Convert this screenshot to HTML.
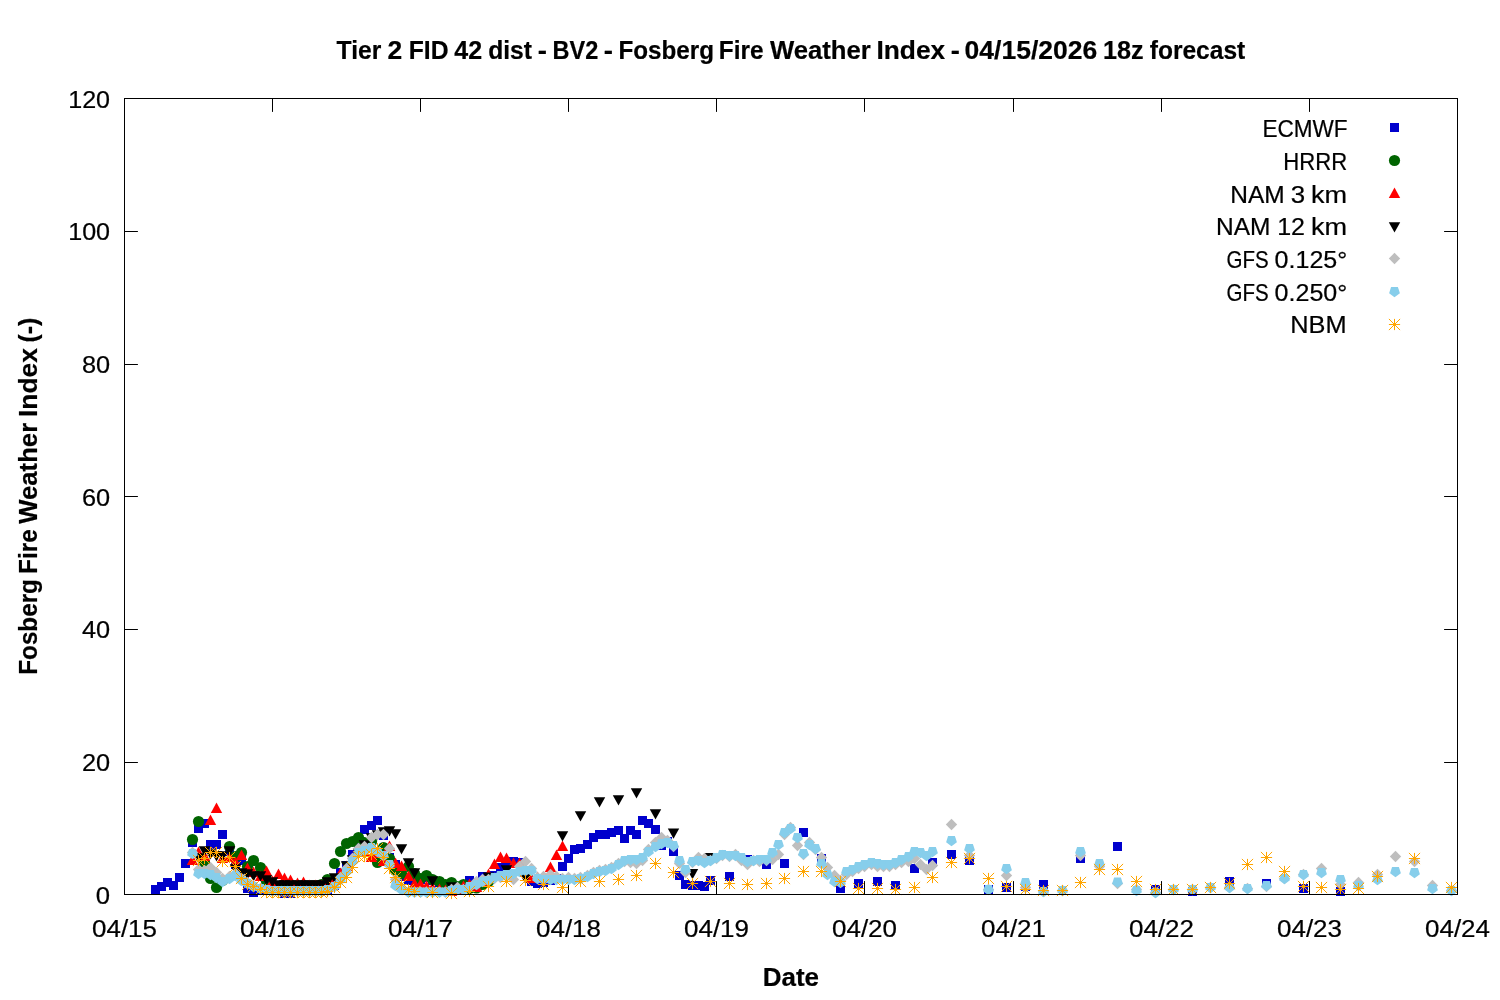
<!DOCTYPE html>
<html lang="en">
<head>
<meta charset="utf-8">
<title>Fosberg Fire Weather Index forecast</title>
<style>
html,body{margin:0;padding:0;background:#fff;}
body{width:1500px;height:1000px;overflow:hidden;}
svg{display:block;}
text{font-family:"Liberation Sans", sans-serif;font-size:24.6px;fill:#000;stroke:#000;stroke-width:0.22px;stroke-linejoin:round;}
.b{font-weight:bold;font-size:24.9px;stroke-width:0.2px;}
</style>
</head>
<body>
<svg width="1500" height="1000" viewBox="0 0 1500 1000">
<rect width="1500" height="1000" fill="#fff"/>
<path d="M272.5 894.5v-13.4M272.5 98.5v13.4M420.5 894.5v-13.4M420.5 98.5v13.4M568.5 894.5v-13.4M568.5 98.5v13.4M716.5 894.5v-13.4M716.5 98.5v13.4M864.5 894.5v-13.4M864.5 98.5v13.4M1013.5 894.5v-13.4M1013.5 98.5v13.4M1161.5 894.5v-13.4M1161.5 98.5v13.4M1309.5 894.5v-13.4M1309.5 98.5v13.4M124.5 762.5h13.4M1457.5 762.5h-13.4M124.5 629.5h13.4M1457.5 629.5h-13.4M124.5 496.5h13.4M1457.5 496.5h-13.4M124.5 364.5h13.4M1457.5 364.5h-13.4M124.5 231.5h13.4M1457.5 231.5h-13.4" stroke="#000" stroke-width="1" fill="none"/>
<g id="s-0"><g fill="#0000cd"><rect x="151.0" y="885.0" width="9" height="9"/><rect x="157.0" y="882.0" width="9" height="9"/><rect x="163.0" y="878.0" width="9" height="9"/><rect x="169.0" y="881.0" width="9" height="9"/><rect x="175.0" y="873.0" width="9" height="9"/><rect x="181.0" y="859.0" width="9" height="9"/><rect x="188.0" y="838.0" width="9" height="9"/><rect x="194.0" y="824.0" width="9" height="9"/><rect x="200.0" y="819.0" width="9" height="9"/><rect x="206.0" y="840.0" width="9" height="9"/><rect x="212.0" y="840.0" width="9" height="9"/><rect x="218.0" y="830.0" width="9" height="9"/><rect x="225.0" y="847.0" width="9" height="9"/><rect x="231.0" y="860.0" width="9" height="9"/><rect x="237.0" y="856.0" width="9" height="9"/><rect x="243.0" y="884.0" width="9" height="9"/><rect x="249.0" y="888.0" width="9" height="9"/><rect x="256.0" y="886.0" width="9" height="9"/><rect x="262.0" y="886.0" width="9" height="9"/><rect x="268.0" y="886.0" width="9" height="9"/><rect x="274.0" y="886.0" width="9" height="9"/><rect x="280.0" y="889.0" width="9" height="9"/><rect x="286.0" y="889.0" width="9" height="9"/><rect x="293.0" y="886.0" width="9" height="9"/><rect x="299.0" y="886.0" width="9" height="9"/><rect x="305.0" y="886.0" width="9" height="9"/><rect x="311.0" y="886.0" width="9" height="9"/><rect x="317.0" y="886.0" width="9" height="9"/><rect x="323.0" y="886.0" width="9" height="9"/><rect x="330.0" y="881.0" width="9" height="9"/><rect x="336.0" y="868.0" width="9" height="9"/><rect x="342.0" y="861.0" width="9" height="9"/><rect x="348.0" y="850.0" width="9" height="9"/><rect x="354.0" y="843.0" width="9" height="9"/><rect x="360.0" y="825.0" width="9" height="9"/><rect x="367.0" y="821.0" width="9" height="9"/><rect x="373.0" y="816.0" width="9" height="9"/><rect x="379.0" y="831.0" width="9" height="9"/><rect x="385.0" y="853.0" width="9" height="9"/><rect x="391.0" y="860.0" width="9" height="9"/><rect x="397.0" y="872.0" width="9" height="9"/><rect x="404.0" y="876.0" width="9" height="9"/><rect x="410.0" y="874.0" width="9" height="9"/><rect x="416.0" y="875.0" width="9" height="9"/><rect x="422.0" y="873.0" width="9" height="9"/><rect x="428.0" y="876.0" width="9" height="9"/><rect x="435.0" y="878.0" width="9" height="9"/><rect x="441.0" y="880.0" width="9" height="9"/><rect x="447.0" y="880.0" width="9" height="9"/><rect x="453.0" y="882.0" width="9" height="9"/><rect x="459.0" y="882.0" width="9" height="9"/><rect x="465.0" y="876.0" width="9" height="9"/><rect x="472.0" y="881.0" width="9" height="9"/><rect x="478.0" y="872.0" width="9" height="9"/><rect x="484.0" y="872.0" width="9" height="9"/><rect x="490.0" y="871.0" width="9" height="9"/><rect x="496.0" y="863.0" width="9" height="9"/><rect x="502.0" y="860.0" width="9" height="9"/><rect x="509.0" y="857.0" width="9" height="9"/><rect x="515.0" y="858.0" width="9" height="9"/><rect x="521.0" y="866.0" width="9" height="9"/><rect x="527.0" y="877.0" width="9" height="9"/><rect x="533.0" y="879.0" width="9" height="9"/><rect x="539.0" y="878.0" width="9" height="9"/><rect x="546.0" y="876.0" width="9" height="9"/><rect x="552.0" y="874.0" width="9" height="9"/><rect x="558.0" y="862.0" width="9" height="9"/><rect x="564.0" y="854.0" width="9" height="9"/><rect x="570.0" y="845.0" width="9" height="9"/><rect x="576.0" y="844.0" width="9" height="9"/><rect x="583.0" y="840.0" width="9" height="9"/><rect x="589.0" y="833.0" width="9" height="9"/><rect x="595.0" y="830.0" width="9" height="9"/><rect x="601.0" y="830.0" width="9" height="9"/><rect x="607.0" y="828.0" width="9" height="9"/><rect x="614.0" y="826.0" width="9" height="9"/><rect x="620.0" y="834.0" width="9" height="9"/><rect x="626.0" y="826.0" width="9" height="9"/><rect x="632.0" y="830.0" width="9" height="9"/><rect x="638.0" y="816.0" width="9" height="9"/><rect x="644.0" y="819.0" width="9" height="9"/><rect x="651.0" y="825.0" width="9" height="9"/><rect x="657.0" y="841.0" width="9" height="9"/><rect x="663.0" y="837.0" width="9" height="9"/><rect x="669.0" y="847.0" width="9" height="9"/><rect x="675.0" y="871.0" width="9" height="9"/><rect x="681.0" y="880.0" width="9" height="9"/><rect x="688.0" y="881.0" width="9" height="9"/><rect x="694.0" y="881.0" width="9" height="9"/><rect x="700.0" y="882.0" width="9" height="9"/><rect x="706.0" y="876.0" width="9" height="9"/><rect x="725.0" y="872.0" width="9" height="9"/><rect x="743.0" y="855.0" width="9" height="9"/><rect x="762.0" y="860.0" width="9" height="9"/><rect x="780.0" y="859.0" width="9" height="9"/><rect x="799.0" y="828.0" width="9" height="9"/><rect x="817.0" y="854.0" width="9" height="9"/><rect x="836.0" y="884.0" width="9" height="9"/><rect x="854.0" y="879.0" width="9" height="9"/><rect x="873.0" y="877.0" width="9" height="9"/><rect x="891.0" y="881.0" width="9" height="9"/><rect x="910.0" y="864.0" width="9" height="9"/><rect x="928.0" y="858.0" width="9" height="9"/><rect x="947.0" y="850.0" width="9" height="9"/><rect x="965.0" y="856.0" width="9" height="9"/><rect x="984.0" y="885.0" width="9" height="9"/><rect x="1002.0" y="883.0" width="9" height="9"/><rect x="1021.0" y="882.0" width="9" height="9"/><rect x="1039.0" y="880.0" width="9" height="9"/><rect x="1076.0" y="854.0" width="9" height="9"/><rect x="1113.0" y="842.0" width="9" height="9"/><rect x="1151.0" y="885.0" width="9" height="9"/><rect x="1188.0" y="887.0" width="9" height="9"/><rect x="1225.0" y="877.0" width="9" height="9"/><rect x="1262.0" y="879.0" width="9" height="9"/><rect x="1299.0" y="884.0" width="9" height="9"/><rect x="1336.0" y="887.0" width="9" height="9"/></g></g>
<g id="s-1"><g fill="#006400"><circle cx="192.5" cy="839.5" r="5.6"/><circle cx="198.5" cy="821.5" r="5.6"/><circle cx="204.5" cy="862.5" r="5.6"/><circle cx="210.5" cy="878.5" r="5.6"/><circle cx="216.5" cy="887.5" r="5.6"/><circle cx="222.5" cy="880.5" r="5.6"/><circle cx="229.5" cy="846.5" r="5.6"/><circle cx="235.5" cy="856.5" r="5.6"/><circle cx="241.5" cy="852.5" r="5.6"/><circle cx="247.5" cy="866.5" r="5.6"/><circle cx="253.5" cy="860.5" r="5.6"/><circle cx="260.5" cy="867.5" r="5.6"/><circle cx="266.5" cy="881.5" r="5.6"/><circle cx="272.5" cy="884.5" r="5.6"/><circle cx="278.5" cy="886.5" r="5.6"/><circle cx="284.5" cy="887.5" r="5.6"/><circle cx="290.5" cy="887.5" r="5.6"/><circle cx="297.5" cy="887.5" r="5.6"/><circle cx="303.5" cy="887.5" r="5.6"/><circle cx="309.5" cy="887.5" r="5.6"/><circle cx="315.5" cy="886.5" r="5.6"/><circle cx="321.5" cy="884.5" r="5.6"/><circle cx="327.5" cy="879.5" r="5.6"/><circle cx="334.5" cy="863.5" r="5.6"/><circle cx="340.5" cy="851.5" r="5.6"/><circle cx="346.5" cy="843.5" r="5.6"/><circle cx="352.5" cy="841.5" r="5.6"/><circle cx="358.5" cy="837.5" r="5.6"/><circle cx="364.5" cy="842.5" r="5.6"/><circle cx="371.5" cy="841.5" r="5.6"/><circle cx="377.5" cy="862.5" r="5.6"/><circle cx="383.5" cy="847.5" r="5.6"/><circle cx="389.5" cy="858.5" r="5.6"/><circle cx="395.5" cy="870.5" r="5.6"/><circle cx="401.5" cy="873.5" r="5.6"/><circle cx="408.5" cy="866.5" r="5.6"/><circle cx="414.5" cy="873.5" r="5.6"/><circle cx="420.5" cy="878.5" r="5.6"/><circle cx="426.5" cy="875.5" r="5.6"/><circle cx="432.5" cy="879.5" r="5.6"/><circle cx="439.5" cy="881.5" r="5.6"/><circle cx="445.5" cy="884.5" r="5.6"/><circle cx="451.5" cy="882.5" r="5.6"/><circle cx="457.5" cy="886.5" r="5.6"/><circle cx="463.5" cy="884.5" r="5.6"/><circle cx="469.5" cy="888.5" r="5.6"/><circle cx="476.5" cy="888.0" r="5.6"/><circle cx="482.5" cy="884.5" r="5.6"/><circle cx="488.5" cy="881.5" r="5.6"/></g></g>
<g id="s-2"><g fill="#ff0000"><path d="M186.8 865.0L192.5 854.5L198.2 865.0z"/><path d="M192.8 857.0L198.5 846.5L204.2 857.0z"/><path d="M198.8 861.0L204.5 850.5L210.2 861.0z"/><path d="M204.8 825.0L210.5 814.5L216.2 825.0z"/><path d="M210.8 813.0L216.5 802.5L222.2 813.0z"/><path d="M216.8 863.0L222.5 852.5L228.2 863.0z"/><path d="M223.8 862.0L229.5 851.5L235.2 862.0z"/><path d="M229.8 867.0L235.5 856.5L241.2 867.0z"/><path d="M235.8 860.0L241.5 849.5L247.2 860.0z"/><path d="M241.8 873.0L247.5 862.5L253.2 873.0z"/><path d="M247.8 877.0L253.5 866.5L259.2 877.0z"/><path d="M254.8 881.0L260.5 870.5L266.2 881.0z"/><path d="M260.8 876.0L266.5 865.5L272.2 876.0z"/><path d="M266.8 886.0L272.5 875.5L278.2 886.0z"/><path d="M272.8 879.0L278.5 868.5L284.2 879.0z"/><path d="M278.8 883.0L284.5 872.5L290.2 883.0z"/><path d="M284.8 885.0L290.5 874.5L296.2 885.0z"/><path d="M291.8 888.0L297.5 877.5L303.2 888.0z"/><path d="M297.8 887.0L303.5 876.5L309.2 887.0z"/><path d="M303.8 890.0L309.5 879.5L315.2 890.0z"/><path d="M309.8 890.0L315.5 879.5L321.2 890.0z"/><path d="M315.8 890.0L321.5 879.5L327.2 890.0z"/><path d="M321.8 888.0L327.5 877.5L333.2 888.0z"/><path d="M328.8 885.0L334.5 874.5L340.2 885.0z"/><path d="M334.8 878.0L340.5 867.5L346.2 878.0z"/><path d="M340.8 871.0L346.5 860.5L352.2 871.0z"/><path d="M346.8 863.0L352.5 852.5L358.2 863.0z"/><path d="M352.8 856.0L358.5 845.5L364.2 856.0z"/><path d="M358.8 857.0L364.5 846.5L370.2 857.0z"/><path d="M365.8 862.0L371.5 851.5L377.2 862.0z"/><path d="M371.8 858.0L377.5 847.5L383.2 858.0z"/><path d="M377.8 866.0L383.5 855.5L389.2 866.0z"/><path d="M383.8 851.0L389.5 840.5L395.2 851.0z"/><path d="M389.8 868.0L395.5 857.5L401.2 868.0z"/><path d="M395.8 871.0L401.5 860.5L407.2 871.0z"/><path d="M402.8 881.0L408.5 870.5L414.2 881.0z"/><path d="M408.8 888.5L414.5 878.0L420.2 888.5z"/><path d="M414.8 889.0L420.5 878.5L426.2 889.0z"/><path d="M420.8 891.0L426.5 880.5L432.2 891.0z"/><path d="M426.8 892.5L432.5 882.0L438.2 892.5z"/><path d="M433.8 894.0L439.5 883.5L445.2 894.0z"/><path d="M439.8 895.0L445.5 884.5L451.2 895.0z"/><path d="M445.8 896.0L451.5 885.5L457.2 896.0z"/><path d="M451.8 895.0L457.5 884.5L463.2 895.0z"/><path d="M457.8 891.0L463.5 880.5L469.2 891.0z"/><path d="M463.8 889.0L469.5 878.5L475.2 889.0z"/><path d="M470.8 892.0L476.5 881.5L482.2 892.0z"/><path d="M476.8 886.0L482.5 875.5L488.2 886.0z"/><path d="M482.8 879.0L488.5 868.5L494.2 879.0z"/><path d="M488.8 869.0L494.5 858.5L500.2 869.0z"/><path d="M494.8 862.0L500.5 851.5L506.2 862.0z"/><path d="M500.8 863.0L506.5 852.5L512.2 863.0z"/><path d="M507.8 868.0L513.5 857.5L519.2 868.0z"/><path d="M513.8 868.0L519.5 857.5L525.2 868.0z"/><path d="M519.8 877.0L525.5 866.5L531.2 877.0z"/><path d="M525.8 883.0L531.5 872.5L537.2 883.0z"/><path d="M531.8 882.0L537.5 871.5L543.2 882.0z"/><path d="M537.8 883.0L543.5 872.5L549.2 883.0z"/><path d="M544.8 872.0L550.5 861.5L556.2 872.0z"/><path d="M550.8 860.0L556.5 849.5L562.2 860.0z"/><path d="M556.8 851.0L562.5 840.5L568.2 851.0z"/></g></g>
<g id="s-3"><g fill="#000000"><path d="M192.8 853.2L198.5 863.4L204.2 853.2z"/><path d="M198.8 846.2L204.5 856.4L210.2 846.2z"/><path d="M204.8 849.2L210.5 859.4L216.2 849.2z"/><path d="M210.8 851.2L216.5 861.4L222.2 851.2z"/><path d="M216.8 851.2L222.5 861.4L228.2 851.2z"/><path d="M223.8 846.2L229.5 856.4L235.2 846.2z"/><path d="M229.8 864.2L235.5 874.4L241.2 864.2z"/><path d="M235.8 868.2L241.5 878.4L247.2 868.2z"/><path d="M241.8 869.2L247.5 879.4L253.2 869.2z"/><path d="M247.8 871.2L253.5 881.4L259.2 871.2z"/><path d="M254.8 871.2L260.5 881.4L266.2 871.2z"/><path d="M260.8 875.2L266.5 885.4L272.2 875.2z"/><path d="M266.8 877.2L272.5 887.4L278.2 877.2z"/><path d="M272.8 880.2L278.5 890.4L284.2 880.2z"/><path d="M278.8 880.2L284.5 890.4L290.2 880.2z"/><path d="M284.8 880.2L290.5 890.4L296.2 880.2z"/><path d="M291.8 880.2L297.5 890.4L303.2 880.2z"/><path d="M297.8 880.2L303.5 890.4L309.2 880.2z"/><path d="M303.8 880.2L309.5 890.4L315.2 880.2z"/><path d="M309.8 880.2L315.5 890.4L321.2 880.2z"/><path d="M315.8 880.2L321.5 890.4L327.2 880.2z"/><path d="M321.8 877.2L327.5 887.4L333.2 877.2z"/><path d="M328.8 873.2L334.5 883.4L340.2 873.2z"/><path d="M334.8 874.7L340.5 884.9L346.2 874.7z"/><path d="M340.8 861.2L346.5 871.4L352.2 861.2z"/><path d="M346.8 855.2L352.5 865.4L358.2 855.2z"/><path d="M352.8 848.2L358.5 858.4L364.2 848.2z"/><path d="M358.8 840.2L364.5 850.4L370.2 840.2z"/><path d="M365.8 833.2L371.5 843.4L377.2 833.2z"/><path d="M371.8 830.2L377.5 840.4L383.2 830.2z"/><path d="M377.8 827.2L383.5 837.4L389.2 827.2z"/><path d="M383.8 826.2L389.5 836.4L395.2 826.2z"/><path d="M389.8 829.2L395.5 839.4L401.2 829.2z"/><path d="M395.8 844.2L401.5 854.4L407.2 844.2z"/><path d="M402.8 858.2L408.5 868.4L414.2 858.2z"/><path d="M408.8 868.2L414.5 878.4L420.2 868.2z"/><path d="M426.8 876.2L432.5 886.4L438.2 876.2z"/><path d="M445.8 882.2L451.5 892.4L457.2 882.2z"/><path d="M463.8 884.2L469.5 894.4L475.2 884.2z"/><path d="M482.8 872.4L488.5 882.6L494.2 872.4z"/><path d="M500.8 865.2L506.5 875.4L512.2 865.2z"/><path d="M519.8 873.7L525.5 883.9L531.2 873.7z"/><path d="M537.8 876.2L543.5 886.4L549.2 876.2z"/><path d="M556.8 831.3L562.5 841.5L568.2 831.3z"/><path d="M574.8 811.3L580.5 821.5L586.2 811.3z"/><path d="M593.8 797.3L599.5 807.5L605.2 797.3z"/><path d="M612.8 795.3L618.5 805.5L624.2 795.3z"/><path d="M630.8 788.3L636.5 798.5L642.2 788.3z"/><path d="M649.8 809.3L655.5 819.5L661.2 809.3z"/><path d="M667.8 828.5L673.5 838.7L679.2 828.5z"/><path d="M686.8 869.0L692.5 879.2L698.2 869.0z"/><path d="M704.8 853.0L710.5 863.2L716.2 853.0z"/></g></g>
<g id="s-4"><g fill="#bebebe"><path d="M186.8 852.5L192.5 846.8L198.2 852.5L192.5 858.2z"/><path d="M192.8 869.5L198.5 863.8L204.2 869.5L198.5 875.2z"/><path d="M198.8 870.5L204.5 864.8L210.2 870.5L204.5 876.2z"/><path d="M204.8 867.5L210.5 861.8L216.2 867.5L210.5 873.2z"/><path d="M210.8 872.5L216.5 866.8L222.2 872.5L216.5 878.2z"/><path d="M216.8 878.5L222.5 872.8L228.2 878.5L222.5 884.2z"/><path d="M223.8 876.5L229.5 870.8L235.2 876.5L229.5 882.2z"/><path d="M229.8 873.5L235.5 867.8L241.2 873.5L235.5 879.2z"/><path d="M235.8 878.5L241.5 872.8L247.2 878.5L241.5 884.2z"/><path d="M241.8 882.5L247.5 876.8L253.2 882.5L247.5 888.2z"/><path d="M247.8 885.5L253.5 879.8L259.2 885.5L253.5 891.2z"/><path d="M254.8 888.5L260.5 882.8L266.2 888.5L260.5 894.2z"/><path d="M260.8 890.5L266.5 884.8L272.2 890.5L266.5 896.2z"/><path d="M266.8 891.5L272.5 885.8L278.2 891.5L272.5 897.2z"/><path d="M272.8 891.5L278.5 885.8L284.2 891.5L278.5 897.2z"/><path d="M278.8 891.5L284.5 885.8L290.2 891.5L284.5 897.2z"/><path d="M284.8 891.5L290.5 885.8L296.2 891.5L290.5 897.2z"/><path d="M291.8 891.5L297.5 885.8L303.2 891.5L297.5 897.2z"/><path d="M297.8 891.5L303.5 885.8L309.2 891.5L303.5 897.2z"/><path d="M303.8 891.5L309.5 885.8L315.2 891.5L309.5 897.2z"/><path d="M309.8 891.5L315.5 885.8L321.2 891.5L315.5 897.2z"/><path d="M315.8 891.5L321.5 885.8L327.2 891.5L321.5 897.2z"/><path d="M321.8 890.5L327.5 884.8L333.2 890.5L327.5 896.2z"/><path d="M328.8 886.5L334.5 880.8L340.2 886.5L334.5 892.2z"/><path d="M334.8 877.5L340.5 871.8L346.2 877.5L340.5 883.2z"/><path d="M340.8 868.5L346.5 862.8L352.2 868.5L346.5 874.2z"/><path d="M346.8 858.5L352.5 852.8L358.2 858.5L352.5 864.2z"/><path d="M352.8 848.5L358.5 842.8L364.2 848.5L358.5 854.2z"/><path d="M358.8 846.5L364.5 840.8L370.2 846.5L364.5 852.2z"/><path d="M365.8 837.5L371.5 831.8L377.2 837.5L371.5 843.2z"/><path d="M371.8 834.5L377.5 828.8L383.2 834.5L377.5 840.2z"/><path d="M377.8 834.5L383.5 828.8L389.2 834.5L383.5 840.2z"/><path d="M383.8 848.5L389.5 842.8L395.2 848.5L389.5 854.2z"/><path d="M389.8 879.5L395.5 873.8L401.2 879.5L395.5 885.2z"/><path d="M395.8 887.5L401.5 881.8L407.2 887.5L401.5 893.2z"/><path d="M402.8 892.0L408.5 886.3L414.2 892.0L408.5 897.7z"/><path d="M408.8 892.0L414.5 886.3L420.2 892.0L414.5 897.7z"/><path d="M414.8 892.0L420.5 886.3L426.2 892.0L420.5 897.7z"/><path d="M420.8 892.0L426.5 886.3L432.2 892.0L426.5 897.7z"/><path d="M426.8 892.0L432.5 886.3L438.2 892.0L432.5 897.7z"/><path d="M433.8 892.0L439.5 886.3L445.2 892.0L439.5 897.7z"/><path d="M439.8 892.0L445.5 886.3L451.2 892.0L445.5 897.7z"/><path d="M445.8 889.5L451.5 883.8L457.2 889.5L451.5 895.2z"/><path d="M451.8 887.5L457.5 881.8L463.2 887.5L457.5 893.2z"/><path d="M457.8 889.5L463.5 883.8L469.2 889.5L463.5 895.2z"/><path d="M463.8 887.5L469.5 881.8L475.2 887.5L469.5 893.2z"/><path d="M470.8 881.5L476.5 875.8L482.2 881.5L476.5 887.2z"/><path d="M476.8 879.5L482.5 873.8L488.2 879.5L482.5 885.2z"/><path d="M482.8 879.5L488.5 873.8L494.2 879.5L488.5 885.2z"/><path d="M488.8 878.5L494.5 872.8L500.2 878.5L494.5 884.2z"/><path d="M494.8 877.5L500.5 871.8L506.2 877.5L500.5 883.2z"/><path d="M500.8 876.5L506.5 870.8L512.2 876.5L506.5 882.2z"/><path d="M507.8 879.5L513.5 873.8L519.2 879.5L513.5 885.2z"/><path d="M513.8 866.5L519.5 860.8L525.2 866.5L519.5 872.2z"/><path d="M519.8 861.5L525.5 855.8L531.2 861.5L525.5 867.2z"/><path d="M525.8 868.5L531.5 862.8L537.2 868.5L531.5 874.2z"/><path d="M531.8 877.5L537.5 871.8L543.2 877.5L537.5 883.2z"/><path d="M537.8 876.5L543.5 870.8L549.2 876.5L543.5 882.2z"/><path d="M544.8 874.5L550.5 868.8L556.2 874.5L550.5 880.2z"/><path d="M550.8 876.5L556.5 870.8L562.2 876.5L556.5 882.2z"/><path d="M556.8 878.5L562.5 872.8L568.2 878.5L562.5 884.2z"/><path d="M562.8 877.5L568.5 871.8L574.2 877.5L568.5 883.2z"/><path d="M568.8 878.5L574.5 872.8L580.2 878.5L574.5 884.2z"/><path d="M574.8 877.5L580.5 871.8L586.2 877.5L580.5 883.2z"/><path d="M581.8 875.5L587.5 869.8L593.2 875.5L587.5 881.2z"/><path d="M587.8 872.5L593.5 866.8L599.2 872.5L593.5 878.2z"/><path d="M593.8 870.5L599.5 864.8L605.2 870.5L599.5 876.2z"/><path d="M599.8 869.5L605.5 863.8L611.2 869.5L605.5 875.2z"/><path d="M605.8 867.5L611.5 861.8L617.2 867.5L611.5 873.2z"/><path d="M612.8 863.5L618.5 857.8L624.2 863.5L618.5 869.2z"/><path d="M618.8 861.5L624.5 855.8L630.2 861.5L624.5 867.2z"/><path d="M624.8 862.5L630.5 856.8L636.2 862.5L630.5 868.2z"/><path d="M630.8 863.5L636.5 857.8L642.2 863.5L636.5 869.2z"/><path d="M636.8 860.5L642.5 854.8L648.2 860.5L642.5 866.2z"/><path d="M642.8 849.5L648.5 843.8L654.2 849.5L648.5 855.2z"/><path d="M649.8 842.5L655.5 836.8L661.2 842.5L655.5 848.2z"/><path d="M655.8 837.5L661.5 831.8L667.2 837.5L661.5 843.2z"/><path d="M661.8 840.5L667.5 834.8L673.2 840.5L667.5 846.2z"/><path d="M667.8 846.5L673.5 840.8L679.2 846.5L673.5 852.2z"/><path d="M673.8 863.5L679.5 857.8L685.2 863.5L679.5 869.2z"/><path d="M679.8 872.5L685.5 866.8L691.2 872.5L685.5 878.2z"/><path d="M686.8 862.5L692.5 856.8L698.2 862.5L692.5 868.2z"/><path d="M692.8 857.5L698.5 851.8L704.2 857.5L698.5 863.2z"/><path d="M698.8 858.5L704.5 852.8L710.2 858.5L704.5 864.2z"/><path d="M704.8 860.5L710.5 854.8L716.2 860.5L710.5 866.2z"/><path d="M710.8 858.5L716.5 852.8L722.2 858.5L716.5 864.2z"/><path d="M716.8 855.5L722.5 849.8L728.2 855.5L722.5 861.2z"/><path d="M723.8 856.5L729.5 850.8L735.2 856.5L729.5 862.2z"/><path d="M729.8 854.5L735.5 848.8L741.2 854.5L735.5 860.2z"/><path d="M735.8 860.5L741.5 854.8L747.2 860.5L741.5 866.2z"/><path d="M741.8 864.5L747.5 858.8L753.2 864.5L747.5 870.2z"/><path d="M747.8 860.5L753.5 854.8L759.2 860.5L753.5 866.2z"/><path d="M753.8 861.5L759.5 855.8L765.2 861.5L759.5 867.2z"/><path d="M760.8 860.5L766.5 854.8L772.2 860.5L766.5 866.2z"/><path d="M766.8 859.5L772.5 853.8L778.2 859.5L772.5 865.2z"/><path d="M772.8 854.5L778.5 848.8L784.2 854.5L778.5 860.2z"/><path d="M778.8 834.5L784.5 828.8L790.2 834.5L784.5 840.2z"/><path d="M784.8 827.5L790.5 821.8L796.2 827.5L790.5 833.2z"/><path d="M791.8 845.5L797.5 839.8L803.2 845.5L797.5 851.2z"/><path d="M797.8 854.5L803.5 848.8L809.2 854.5L803.5 860.2z"/><path d="M803.8 842.5L809.5 836.8L815.2 842.5L809.5 848.2z"/><path d="M809.8 849.5L815.5 843.8L821.2 849.5L815.5 855.2z"/><path d="M815.8 857.5L821.5 851.8L827.2 857.5L821.5 863.2z"/><path d="M821.8 867.5L827.5 861.8L833.2 867.5L827.5 873.2z"/><path d="M828.8 875.5L834.5 869.8L840.2 875.5L834.5 881.2z"/><path d="M834.8 880.5L840.5 874.8L846.2 880.5L840.5 886.2z"/><path d="M840.8 874.5L846.5 868.8L852.2 874.5L846.5 880.2z"/><path d="M846.8 871.5L852.5 865.8L858.2 871.5L852.5 877.2z"/><path d="M852.8 868.5L858.5 862.8L864.2 868.5L858.5 874.2z"/><path d="M858.8 866.5L864.5 860.8L870.2 866.5L864.5 872.2z"/><path d="M865.8 864.5L871.5 858.8L877.2 864.5L871.5 870.2z"/><path d="M871.8 866.5L877.5 860.8L883.2 866.5L877.5 872.2z"/><path d="M877.8 866.5L883.5 860.8L889.2 866.5L883.5 872.2z"/><path d="M883.8 866.5L889.5 860.8L895.2 866.5L889.5 872.2z"/><path d="M889.8 864.5L895.5 858.8L901.2 864.5L895.5 870.2z"/><path d="M895.8 862.5L901.5 856.8L907.2 862.5L901.5 868.2z"/><path d="M902.8 861.5L908.5 855.8L914.2 861.5L908.5 867.2z"/><path d="M908.8 858.5L914.5 852.8L920.2 858.5L914.5 864.2z"/><path d="M914.8 864.5L920.5 858.8L926.2 864.5L920.5 870.2z"/><path d="M920.8 869.5L926.5 863.8L932.2 869.5L926.5 875.2z"/><path d="M926.8 865.5L932.5 859.8L938.2 865.5L932.5 871.2z"/><path d="M945.8 824.5L951.5 818.8L957.2 824.5L951.5 830.2z"/><path d="M963.8 855.5L969.5 849.8L975.2 855.5L969.5 861.2z"/><path d="M982.8 889.5L988.5 883.8L994.2 889.5L988.5 895.2z"/><path d="M1000.8 875.5L1006.5 869.8L1012.2 875.5L1006.5 881.2z"/><path d="M1019.8 887.5L1025.5 881.8L1031.2 887.5L1025.5 893.2z"/><path d="M1037.8 891.5L1043.5 885.8L1049.2 891.5L1043.5 897.2z"/><path d="M1056.8 890.5L1062.5 884.8L1068.2 890.5L1062.5 896.2z"/><path d="M1074.8 855.5L1080.5 849.8L1086.2 855.5L1080.5 861.2z"/><path d="M1093.8 866.5L1099.5 860.8L1105.2 866.5L1099.5 872.2z"/><path d="M1111.8 883.5L1117.5 877.8L1123.2 883.5L1117.5 889.2z"/><path d="M1130.8 889.5L1136.5 883.8L1142.2 889.5L1136.5 895.2z"/><path d="M1149.8 892.5L1155.5 886.8L1161.2 892.5L1155.5 898.2z"/><path d="M1167.8 889.5L1173.5 883.8L1179.2 889.5L1173.5 895.2z"/><path d="M1186.8 889.5L1192.5 883.8L1198.2 889.5L1192.5 895.2z"/><path d="M1204.8 887.5L1210.5 881.8L1216.2 887.5L1210.5 893.2z"/><path d="M1223.8 887.5L1229.5 881.8L1235.2 887.5L1229.5 893.2z"/><path d="M1241.8 888.5L1247.5 882.8L1253.2 888.5L1247.5 894.2z"/><path d="M1260.8 886.5L1266.5 880.8L1272.2 886.5L1266.5 892.2z"/><path d="M1278.8 878.5L1284.5 872.8L1290.2 878.5L1284.5 884.2z"/><path d="M1297.8 874.5L1303.5 868.8L1309.2 874.5L1303.5 880.2z"/><path d="M1315.8 868.5L1321.5 862.8L1327.2 868.5L1321.5 874.2z"/><path d="M1334.8 884.5L1340.5 878.8L1346.2 884.5L1340.5 890.2z"/><path d="M1352.8 882.5L1358.5 876.8L1364.2 882.5L1358.5 888.2z"/><path d="M1371.8 874.5L1377.5 868.8L1383.2 874.5L1377.5 880.2z"/><path d="M1389.8 856.5L1395.5 850.8L1401.2 856.5L1395.5 862.2z"/><path d="M1408.8 861.5L1414.5 855.8L1420.2 861.5L1414.5 867.2z"/><path d="M1426.8 885.5L1432.5 879.8L1438.2 885.5L1432.5 891.2z"/><path d="M1445.8 890.5L1451.5 884.8L1457.2 890.5L1451.5 896.2z"/></g></g>
<g id="s-5"><g fill="#87ceeb"><path d="M192.5 859.2L187.1 855.3L189.1 848.9L195.9 848.9L197.9 855.3z"/><path d="M198.5 879.2L193.1 875.3L195.1 868.9L201.9 868.9L203.9 875.3z"/><path d="M204.5 879.2L199.1 875.3L201.1 868.9L207.9 868.9L209.9 875.3z"/><path d="M210.5 880.2L205.1 876.3L207.1 869.9L213.9 869.9L215.9 876.3z"/><path d="M216.5 883.2L211.1 879.3L213.1 872.9L219.9 872.9L221.9 879.3z"/><path d="M222.5 887.2L217.1 883.3L219.1 876.9L225.9 876.9L227.9 883.3z"/><path d="M229.5 884.2L224.1 880.3L226.1 873.9L232.9 873.9L234.9 880.3z"/><path d="M235.5 881.2L230.1 877.3L232.1 870.9L238.9 870.9L240.9 877.3z"/><path d="M241.5 886.2L236.1 882.3L238.1 875.9L244.9 875.9L246.9 882.3z"/><path d="M247.5 889.2L242.1 885.3L244.1 878.9L250.9 878.9L252.9 885.3z"/><path d="M253.5 892.2L248.1 888.3L250.1 881.9L256.9 881.9L258.9 888.3z"/><path d="M260.5 894.2L255.1 890.3L257.1 883.9L263.9 883.9L265.9 890.3z"/><path d="M266.5 895.2L261.1 891.3L263.1 884.9L269.9 884.9L271.9 891.3z"/><path d="M272.5 896.2L267.1 892.3L269.1 885.9L275.9 885.9L277.9 892.3z"/><path d="M278.5 896.2L273.1 892.3L275.1 885.9L281.9 885.9L283.9 892.3z"/><path d="M284.5 896.2L279.1 892.3L281.1 885.9L287.9 885.9L289.9 892.3z"/><path d="M290.5 896.2L285.1 892.3L287.1 885.9L293.9 885.9L295.9 892.3z"/><path d="M297.5 896.2L292.1 892.3L294.1 885.9L300.9 885.9L302.9 892.3z"/><path d="M303.5 896.2L298.1 892.3L300.1 885.9L306.9 885.9L308.9 892.3z"/><path d="M309.5 896.2L304.1 892.3L306.1 885.9L312.9 885.9L314.9 892.3z"/><path d="M315.5 896.2L310.1 892.3L312.1 885.9L318.9 885.9L320.9 892.3z"/><path d="M321.5 896.2L316.1 892.3L318.1 885.9L324.9 885.9L326.9 892.3z"/><path d="M327.5 895.2L322.1 891.3L324.1 884.9L330.9 884.9L332.9 891.3z"/><path d="M334.5 892.2L329.1 888.3L331.1 881.9L337.9 881.9L339.9 888.3z"/><path d="M340.5 885.2L335.1 881.3L337.1 874.9L343.9 874.9L345.9 881.3z"/><path d="M346.5 877.2L341.1 873.3L343.1 866.9L349.9 866.9L351.9 873.3z"/><path d="M352.5 867.2L347.1 863.3L349.1 856.9L355.9 856.9L357.9 863.3z"/><path d="M358.5 858.2L353.1 854.3L355.1 847.9L361.9 847.9L363.9 854.3z"/><path d="M364.5 856.2L359.1 852.3L361.1 845.9L367.9 845.9L369.9 852.3z"/><path d="M371.5 853.2L366.1 849.3L368.1 842.9L374.9 842.9L376.9 849.3z"/><path d="M377.5 857.2L372.1 853.3L374.1 846.9L380.9 846.9L382.9 853.3z"/><path d="M383.5 861.2L378.1 857.3L380.1 850.9L386.9 850.9L388.9 857.3z"/><path d="M389.5 870.2L384.1 866.3L386.1 859.9L392.9 859.9L394.9 866.3z"/><path d="M395.5 891.2L390.1 887.3L392.1 880.9L398.9 880.9L400.9 887.3z"/><path d="M401.5 895.2L396.1 891.3L398.1 884.9L404.9 884.9L406.9 891.3z"/><path d="M408.5 897.7L403.1 893.8L405.1 887.4L411.9 887.4L413.9 893.8z"/><path d="M414.5 897.7L409.1 893.8L411.1 887.4L417.9 887.4L419.9 893.8z"/><path d="M420.5 897.7L415.1 893.8L417.1 887.4L423.9 887.4L425.9 893.8z"/><path d="M426.5 897.7L421.1 893.8L423.1 887.4L429.9 887.4L431.9 893.8z"/><path d="M432.5 897.7L427.1 893.8L429.1 887.4L435.9 887.4L437.9 893.8z"/><path d="M439.5 897.7L434.1 893.8L436.1 887.4L442.9 887.4L444.9 893.8z"/><path d="M445.5 897.7L440.1 893.8L442.1 887.4L448.9 887.4L450.9 893.8z"/><path d="M451.5 896.2L446.1 892.3L448.1 885.9L454.9 885.9L456.9 892.3z"/><path d="M457.5 895.2L452.1 891.3L454.1 884.9L460.9 884.9L462.9 891.3z"/><path d="M463.5 895.2L458.1 891.3L460.1 884.9L466.9 884.9L468.9 891.3z"/><path d="M469.5 892.2L464.1 888.3L466.1 881.9L472.9 881.9L474.9 888.3z"/><path d="M476.5 890.2L471.1 886.3L473.1 879.9L479.9 879.9L481.9 886.3z"/><path d="M482.5 887.2L477.1 883.3L479.1 876.9L485.9 876.9L487.9 883.3z"/><path d="M488.5 886.2L483.1 882.3L485.1 875.9L491.9 875.9L493.9 882.3z"/><path d="M494.5 883.2L489.1 879.3L491.1 872.9L497.9 872.9L499.9 879.3z"/><path d="M500.5 881.2L495.1 877.3L497.1 870.9L503.9 870.9L505.9 877.3z"/><path d="M506.5 880.2L501.1 876.3L503.1 869.9L509.9 869.9L511.9 876.3z"/><path d="M513.5 879.2L508.1 875.3L510.1 868.9L516.9 868.9L518.9 875.3z"/><path d="M519.5 877.2L514.1 873.3L516.1 866.9L522.9 866.9L524.9 873.3z"/><path d="M525.5 876.2L520.1 872.3L522.1 865.9L528.9 865.9L530.9 872.3z"/><path d="M531.5 876.2L526.1 872.3L528.1 865.9L534.9 865.9L536.9 872.3z"/><path d="M537.5 884.2L532.1 880.3L534.1 873.9L540.9 873.9L542.9 880.3z"/><path d="M543.5 885.2L538.1 881.3L540.1 874.9L546.9 874.9L548.9 881.3z"/><path d="M550.5 885.2L545.1 881.3L547.1 874.9L553.9 874.9L555.9 881.3z"/><path d="M556.5 885.2L551.1 881.3L553.1 874.9L559.9 874.9L561.9 881.3z"/><path d="M562.5 885.2L557.1 881.3L559.1 874.9L565.9 874.9L567.9 881.3z"/><path d="M568.5 885.2L563.1 881.3L565.1 874.9L571.9 874.9L573.9 881.3z"/><path d="M574.5 885.2L569.1 881.3L571.1 874.9L577.9 874.9L579.9 881.3z"/><path d="M580.5 884.2L575.1 880.3L577.1 873.9L583.9 873.9L585.9 880.3z"/><path d="M587.5 882.2L582.1 878.3L584.1 871.9L590.9 871.9L592.9 878.3z"/><path d="M593.5 879.2L588.1 875.3L590.1 868.9L596.9 868.9L598.9 875.3z"/><path d="M599.5 877.2L594.1 873.3L596.1 866.9L602.9 866.9L604.9 873.3z"/><path d="M605.5 876.2L600.1 872.3L602.1 865.9L608.9 865.9L610.9 872.3z"/><path d="M611.5 874.2L606.1 870.3L608.1 863.9L614.9 863.9L616.9 870.3z"/><path d="M618.5 870.2L613.1 866.3L615.1 859.9L621.9 859.9L623.9 866.3z"/><path d="M624.5 866.2L619.1 862.3L621.1 855.9L627.9 855.9L629.9 862.3z"/><path d="M630.5 865.2L625.1 861.3L627.1 854.9L633.9 854.9L635.9 861.3z"/><path d="M636.5 865.2L631.1 861.3L633.1 854.9L639.9 854.9L641.9 861.3z"/><path d="M642.5 863.2L637.1 859.3L639.1 852.9L645.9 852.9L647.9 859.3z"/><path d="M648.5 857.2L643.1 853.3L645.1 846.9L651.9 846.9L653.9 853.3z"/><path d="M655.5 852.2L650.1 848.3L652.1 841.9L658.9 841.9L660.9 848.3z"/><path d="M661.5 849.2L656.1 845.3L658.1 838.9L664.9 838.9L666.9 845.3z"/><path d="M667.5 848.2L662.1 844.3L664.1 837.9L670.9 837.9L672.9 844.3z"/><path d="M673.5 851.2L668.1 847.3L670.1 840.9L676.9 840.9L678.9 847.3z"/><path d="M679.5 866.2L674.1 862.3L676.1 855.9L682.9 855.9L684.9 862.3z"/><path d="M685.5 875.2L680.1 871.3L682.1 864.9L688.9 864.9L690.9 871.3z"/><path d="M692.5 867.2L687.1 863.3L689.1 856.9L695.9 856.9L697.9 863.3z"/><path d="M698.5 866.2L693.1 862.3L695.1 855.9L701.9 855.9L703.9 862.3z"/><path d="M704.5 868.2L699.1 864.3L701.1 857.9L707.9 857.9L709.9 864.3z"/><path d="M710.5 866.2L705.1 862.3L707.1 855.9L713.9 855.9L715.9 862.3z"/><path d="M716.5 863.2L711.1 859.3L713.1 852.9L719.9 852.9L721.9 859.3z"/><path d="M722.5 860.2L717.1 856.3L719.1 849.9L725.9 849.9L727.9 856.3z"/><path d="M729.5 861.2L724.1 857.3L726.1 850.9L732.9 850.9L734.9 857.3z"/><path d="M735.5 861.2L730.1 857.3L732.1 850.9L738.9 850.9L740.9 857.3z"/><path d="M741.5 863.2L736.1 859.3L738.1 852.9L744.9 852.9L746.9 859.3z"/><path d="M747.5 867.2L742.1 863.3L744.1 856.9L750.9 856.9L752.9 863.3z"/><path d="M753.5 866.2L748.1 862.3L750.1 855.9L756.9 855.9L758.9 862.3z"/><path d="M759.5 865.2L754.1 861.3L756.1 854.9L762.9 854.9L764.9 861.3z"/><path d="M766.5 865.2L761.1 861.3L763.1 854.9L769.9 854.9L771.9 861.3z"/><path d="M772.5 858.2L767.1 854.3L769.1 847.9L775.9 847.9L777.9 854.3z"/><path d="M778.5 850.2L773.1 846.3L775.1 839.9L781.9 839.9L783.9 846.3z"/><path d="M784.5 838.2L779.1 834.3L781.1 827.9L787.9 827.9L789.9 834.3z"/><path d="M790.5 834.2L785.1 830.3L787.1 823.9L793.9 823.9L795.9 830.3z"/><path d="M797.5 843.2L792.1 839.3L794.1 832.9L800.9 832.9L802.9 839.3z"/><path d="M803.5 859.2L798.1 855.3L800.1 848.9L806.9 848.9L808.9 855.3z"/><path d="M809.5 850.2L804.1 846.3L806.1 839.9L812.9 839.9L814.9 846.3z"/><path d="M815.5 854.2L810.1 850.3L812.1 843.9L818.9 843.9L820.9 850.3z"/><path d="M821.5 869.2L816.1 865.3L818.1 858.9L824.9 858.9L826.9 865.3z"/><path d="M827.5 880.2L822.1 876.3L824.1 869.9L830.9 869.9L832.9 876.3z"/><path d="M834.5 887.2L829.1 883.3L831.1 876.9L837.9 876.9L839.9 883.3z"/><path d="M840.5 888.2L835.1 884.3L837.1 877.9L843.9 877.9L845.9 884.3z"/><path d="M846.5 877.2L841.1 873.3L843.1 866.9L849.9 866.9L851.9 873.3z"/><path d="M852.5 875.2L847.1 871.3L849.1 864.9L855.9 864.9L857.9 871.3z"/><path d="M858.5 872.2L853.1 868.3L855.1 861.9L861.9 861.9L863.9 868.3z"/><path d="M864.5 870.2L859.1 866.3L861.1 859.9L867.9 859.9L869.9 866.3z"/><path d="M871.5 868.2L866.1 864.3L868.1 857.9L874.9 857.9L876.9 864.3z"/><path d="M877.5 869.2L872.1 865.3L874.1 858.9L880.9 858.9L882.9 865.3z"/><path d="M883.5 870.2L878.1 866.3L880.1 859.9L886.9 859.9L888.9 866.3z"/><path d="M889.5 870.2L884.1 866.3L886.1 859.9L892.9 859.9L894.9 866.3z"/><path d="M895.5 868.2L890.1 864.3L892.1 857.9L898.9 857.9L900.9 864.3z"/><path d="M901.5 865.2L896.1 861.3L898.1 854.9L904.9 854.9L906.9 861.3z"/><path d="M908.5 862.2L903.1 858.3L905.1 851.9L911.9 851.9L913.9 858.3z"/><path d="M914.5 857.2L909.1 853.3L911.1 846.9L917.9 846.9L919.9 853.3z"/><path d="M920.5 858.2L915.1 854.3L917.1 847.9L923.9 847.9L925.9 854.3z"/><path d="M926.5 861.2L921.1 857.3L923.1 850.9L929.9 850.9L931.9 857.3z"/><path d="M932.5 857.2L927.1 853.3L929.1 846.9L935.9 846.9L937.9 853.3z"/><path d="M951.5 846.2L946.1 842.3L948.1 835.9L954.9 835.9L956.9 842.3z"/><path d="M969.5 854.2L964.1 850.3L966.1 843.9L972.9 843.9L974.9 850.3z"/><path d="M988.5 895.2L983.1 891.3L985.1 884.9L991.9 884.9L993.9 891.3z"/><path d="M1006.5 874.2L1001.1 870.3L1003.1 863.9L1009.9 863.9L1011.9 870.3z"/><path d="M1025.5 888.2L1020.1 884.3L1022.1 877.9L1028.9 877.9L1030.9 884.3z"/><path d="M1043.5 897.2L1038.1 893.3L1040.1 886.9L1046.9 886.9L1048.9 893.3z"/><path d="M1062.5 896.2L1057.1 892.3L1059.1 885.9L1065.9 885.9L1067.9 892.3z"/><path d="M1080.5 857.2L1075.1 853.3L1077.1 846.9L1083.9 846.9L1085.9 853.3z"/><path d="M1099.5 869.2L1094.1 865.3L1096.1 858.9L1102.9 858.9L1104.9 865.3z"/><path d="M1117.5 887.7L1112.1 883.8L1114.1 877.4L1120.9 877.4L1122.9 883.8z"/><path d="M1136.5 896.2L1131.1 892.3L1133.1 885.9L1139.9 885.9L1141.9 892.3z"/><path d="M1155.5 898.2L1150.1 894.3L1152.1 887.9L1158.9 887.9L1160.9 894.3z"/><path d="M1173.5 895.2L1168.1 891.3L1170.1 884.9L1176.9 884.9L1178.9 891.3z"/><path d="M1192.5 895.2L1187.1 891.3L1189.1 884.9L1195.9 884.9L1197.9 891.3z"/><path d="M1210.5 893.2L1205.1 889.3L1207.1 882.9L1213.9 882.9L1215.9 889.3z"/><path d="M1229.5 893.2L1224.1 889.3L1226.1 882.9L1232.9 882.9L1234.9 889.3z"/><path d="M1247.5 894.2L1242.1 890.3L1244.1 883.9L1250.9 883.9L1252.9 890.3z"/><path d="M1266.5 891.2L1261.1 887.3L1263.1 880.9L1269.9 880.9L1271.9 887.3z"/><path d="M1284.5 884.2L1279.1 880.3L1281.1 873.9L1287.9 873.9L1289.9 880.3z"/><path d="M1303.5 880.2L1298.1 876.3L1300.1 869.9L1306.9 869.9L1308.9 876.3z"/><path d="M1321.5 878.2L1316.1 874.3L1318.1 867.9L1324.9 867.9L1326.9 874.3z"/><path d="M1340.5 885.2L1335.1 881.3L1337.1 874.9L1343.9 874.9L1345.9 881.3z"/><path d="M1358.5 891.2L1353.1 887.3L1355.1 880.9L1361.9 880.9L1363.9 887.3z"/><path d="M1377.5 885.2L1372.1 881.3L1374.1 874.9L1380.9 874.9L1382.9 881.3z"/><path d="M1395.5 877.2L1390.1 873.3L1392.1 866.9L1398.9 866.9L1400.9 873.3z"/><path d="M1414.5 878.2L1409.1 874.3L1411.1 867.9L1417.9 867.9L1419.9 874.3z"/><path d="M1432.5 894.2L1427.1 890.3L1429.1 883.9L1435.9 883.9L1437.9 890.3z"/><path d="M1451.5 896.2L1446.1 892.3L1448.1 885.9L1454.9 885.9L1456.9 892.3z"/></g></g>
<g id="s-6"><g fill="none" stroke="#ffa500" stroke-width="1"><path d="M192.9 860.5H204.1M198.5 854.9V866.1M192.9 854.9L204.1 866.1M192.9 866.1L204.1 854.9"/><path d="M198.9 858.5H210.1M204.5 852.9V864.1M198.9 852.9L210.1 864.1M198.9 864.1L210.1 852.9"/><path d="M204.9 852.5H216.1M210.5 846.9V858.1M204.9 846.9L216.1 858.1M204.9 858.1L216.1 846.9"/><path d="M210.9 852.5H222.1M216.5 846.9V858.1M210.9 846.9L222.1 858.1M210.9 858.1L222.1 846.9"/><path d="M216.9 861.5H228.1M222.5 855.9V867.1M216.9 855.9L228.1 867.1M216.9 867.1L228.1 855.9"/><path d="M223.9 857.5H235.1M229.5 851.9V863.1M223.9 851.9L235.1 863.1M223.9 863.1L235.1 851.9"/><path d="M229.9 866.5H241.1M235.5 860.9V872.1M229.9 860.9L241.1 872.1M229.9 872.1L241.1 860.9"/><path d="M235.9 878.5H247.1M241.5 872.9V884.1M235.9 872.9L247.1 884.1M235.9 884.1L247.1 872.9"/><path d="M241.9 884.5H253.1M247.5 878.9V890.1M241.9 878.9L253.1 890.1M241.9 890.1L253.1 878.9"/><path d="M247.9 886.5H259.1M253.5 880.9V892.1M247.9 880.9L259.1 892.1M247.9 892.1L259.1 880.9"/><path d="M254.9 889.5H266.1M260.5 883.9V895.1M254.9 883.9L266.1 895.1M254.9 895.1L266.1 883.9"/><path d="M260.9 892.5H272.1M266.5 886.9V898.1M260.9 886.9L272.1 898.1M260.9 898.1L272.1 886.9"/><path d="M266.9 892.5H278.1M272.5 886.9V898.1M266.9 886.9L278.1 898.1M266.9 898.1L278.1 886.9"/><path d="M272.9 892.5H284.1M278.5 886.9V898.1M272.9 886.9L284.1 898.1M272.9 898.1L284.1 886.9"/><path d="M278.9 892.5H290.1M284.5 886.9V898.1M278.9 886.9L290.1 898.1M278.9 898.1L290.1 886.9"/><path d="M284.9 892.5H296.1M290.5 886.9V898.1M284.9 886.9L296.1 898.1M284.9 898.1L296.1 886.9"/><path d="M291.9 892.5H303.1M297.5 886.9V898.1M291.9 886.9L303.1 898.1M291.9 898.1L303.1 886.9"/><path d="M297.9 892.5H309.1M303.5 886.9V898.1M297.9 886.9L309.1 898.1M297.9 898.1L309.1 886.9"/><path d="M303.9 892.5H315.1M309.5 886.9V898.1M303.9 886.9L315.1 898.1M303.9 898.1L315.1 886.9"/><path d="M309.9 892.5H321.1M315.5 886.9V898.1M309.9 886.9L321.1 898.1M309.9 898.1L321.1 886.9"/><path d="M315.9 892.5H327.1M321.5 886.9V898.1M315.9 886.9L327.1 898.1M315.9 898.1L327.1 886.9"/><path d="M321.9 891.5H333.1M327.5 885.9V897.1M321.9 885.9L333.1 897.1M321.9 897.1L333.1 885.9"/><path d="M328.9 887.5H340.1M334.5 881.9V893.1M328.9 881.9L340.1 893.1M328.9 893.1L340.1 881.9"/><path d="M334.9 882.5H346.1M340.5 876.9V888.1M334.9 876.9L346.1 888.1M334.9 888.1L346.1 876.9"/><path d="M340.9 877.5H352.1M346.5 871.9V883.1M340.9 871.9L352.1 883.1M340.9 883.1L352.1 871.9"/><path d="M346.9 867.5H358.1M352.5 861.9V873.1M346.9 861.9L358.1 873.1M346.9 873.1L358.1 861.9"/><path d="M352.9 856.5H364.1M358.5 850.9V862.1M352.9 850.9L364.1 862.1M352.9 862.1L364.1 850.9"/><path d="M358.9 856.5H370.1M364.5 850.9V862.1M358.9 850.9L370.1 862.1M358.9 862.1L370.1 850.9"/><path d="M365.9 854.5H377.1M371.5 848.9V860.1M365.9 848.9L377.1 860.1M365.9 860.1L377.1 848.9"/><path d="M371.9 848.5H383.1M377.5 842.9V854.1M371.9 842.9L383.1 854.1M371.9 854.1L383.1 842.9"/><path d="M377.9 857.5H389.1M383.5 851.9V863.1M377.9 851.9L389.1 863.1M377.9 863.1L389.1 851.9"/><path d="M383.9 868.5H395.1M389.5 862.9V874.1M383.9 862.9L395.1 874.1M383.9 874.1L395.1 862.9"/><path d="M389.9 877.5H401.1M395.5 871.9V883.1M389.9 871.9L401.1 883.1M389.9 883.1L401.1 871.9"/><path d="M395.9 884.5H407.1M401.5 878.9V890.1M395.9 878.9L407.1 890.1M395.9 890.1L407.1 878.9"/><path d="M402.9 889.5H414.1M408.5 883.9V895.1M402.9 883.9L414.1 895.1M402.9 895.1L414.1 883.9"/><path d="M408.9 891.5H420.1M414.5 885.9V897.1M408.9 885.9L420.1 897.1M408.9 897.1L420.1 885.9"/><path d="M426.9 892.5H438.1M432.5 886.9V898.1M426.9 886.9L438.1 898.1M426.9 898.1L438.1 886.9"/><path d="M445.9 893.5H457.1M451.5 887.9V899.1M445.9 887.9L457.1 899.1M445.9 899.1L457.1 887.9"/><path d="M463.9 891.5H475.1M469.5 885.9V897.1M463.9 885.9L475.1 897.1M463.9 897.1L475.1 885.9"/><path d="M482.9 886.5H494.1M488.5 880.9V892.1M482.9 880.9L494.1 892.1M482.9 892.1L494.1 880.9"/><path d="M500.9 881.5H512.1M506.5 875.9V887.1M500.9 875.9L512.1 887.1M500.9 887.1L512.1 875.9"/><path d="M519.9 880.5H531.1M525.5 874.9V886.1M519.9 874.9L531.1 886.1M519.9 886.1L531.1 874.9"/><path d="M537.9 884.5H549.1M543.5 878.9V890.1M537.9 878.9L549.1 890.1M537.9 890.1L549.1 878.9"/><path d="M556.9 887.5H568.1M562.5 881.9V893.1M556.9 881.9L568.1 893.1M556.9 893.1L568.1 881.9"/><path d="M574.9 881.5H586.1M580.5 875.9V887.1M574.9 875.9L586.1 887.1M574.9 887.1L586.1 875.9"/><path d="M593.9 881.5H605.1M599.5 875.9V887.1M593.9 875.9L605.1 887.1M593.9 887.1L605.1 875.9"/><path d="M612.9 879.5H624.1M618.5 873.9V885.1M612.9 873.9L624.1 885.1M612.9 885.1L624.1 873.9"/><path d="M630.9 875.5H642.1M636.5 869.9V881.1M630.9 869.9L642.1 881.1M630.9 881.1L642.1 869.9"/><path d="M649.9 863.5H661.1M655.5 857.9V869.1M649.9 857.9L661.1 869.1M649.9 869.1L661.1 857.9"/><path d="M667.9 872.5H679.1M673.5 866.9V878.1M667.9 866.9L679.1 878.1M667.9 878.1L679.1 866.9"/><path d="M686.9 883.5H698.1M692.5 877.9V889.1M686.9 877.9L698.1 889.1M686.9 889.1L698.1 877.9"/><path d="M704.9 881.5H716.1M710.5 875.9V887.1M704.9 875.9L716.1 887.1M704.9 887.1L716.1 875.9"/><path d="M723.9 883.5H735.1M729.5 877.9V889.1M723.9 877.9L735.1 889.1M723.9 889.1L735.1 877.9"/><path d="M741.9 884.5H753.1M747.5 878.9V890.1M741.9 878.9L753.1 890.1M741.9 890.1L753.1 878.9"/><path d="M760.9 883.5H772.1M766.5 877.9V889.1M760.9 877.9L772.1 889.1M760.9 889.1L772.1 877.9"/><path d="M778.9 878.5H790.1M784.5 872.9V884.1M778.9 872.9L790.1 884.1M778.9 884.1L790.1 872.9"/><path d="M797.9 871.5H809.1M803.5 865.9V877.1M797.9 865.9L809.1 877.1M797.9 877.1L809.1 865.9"/><path d="M815.9 871.5H827.1M821.5 865.9V877.1M815.9 865.9L827.1 877.1M815.9 877.1L827.1 865.9"/><path d="M834.9 881.5H846.1M840.5 875.9V887.1M834.9 875.9L846.1 887.1M834.9 887.1L846.1 875.9"/><path d="M852.9 888.5H864.1M858.5 882.9V894.1M852.9 882.9L864.1 894.1M852.9 894.1L864.1 882.9"/><path d="M871.9 888.5H883.1M877.5 882.9V894.1M871.9 882.9L883.1 894.1M871.9 894.1L883.1 882.9"/><path d="M889.9 889.5H901.1M895.5 883.9V895.1M889.9 883.9L901.1 895.1M889.9 895.1L901.1 883.9"/><path d="M908.9 887.5H920.1M914.5 881.9V893.1M908.9 881.9L920.1 893.1M908.9 893.1L920.1 881.9"/><path d="M926.9 877.5H938.1M932.5 871.9V883.1M926.9 871.9L938.1 883.1M926.9 883.1L938.1 871.9"/><path d="M945.9 862.5H957.1M951.5 856.9V868.1M945.9 856.9L957.1 868.1M945.9 868.1L957.1 856.9"/><path d="M963.9 858.5H975.1M969.5 852.9V864.1M963.9 852.9L975.1 864.1M963.9 864.1L975.1 852.9"/><path d="M982.9 878.5H994.1M988.5 872.9V884.1M982.9 872.9L994.1 884.1M982.9 884.1L994.1 872.9"/><path d="M1000.9 886.5H1012.1M1006.5 880.9V892.1M1000.9 880.9L1012.1 892.1M1000.9 892.1L1012.1 880.9"/><path d="M1019.9 889.5H1031.1M1025.5 883.9V895.1M1019.9 883.9L1031.1 895.1M1019.9 895.1L1031.1 883.9"/><path d="M1037.9 890.5H1049.1M1043.5 884.9V896.1M1037.9 884.9L1049.1 896.1M1037.9 896.1L1049.1 884.9"/><path d="M1056.9 890.5H1068.1M1062.5 884.9V896.1M1056.9 884.9L1068.1 896.1M1056.9 896.1L1068.1 884.9"/><path d="M1074.9 882.5H1086.1M1080.5 876.9V888.1M1074.9 876.9L1086.1 888.1M1074.9 888.1L1086.1 876.9"/><path d="M1093.9 869.5H1105.1M1099.5 863.9V875.1M1093.9 863.9L1105.1 875.1M1093.9 875.1L1105.1 863.9"/><path d="M1111.9 869.5H1123.1M1117.5 863.9V875.1M1111.9 863.9L1123.1 875.1M1111.9 875.1L1123.1 863.9"/><path d="M1130.9 881.5H1142.1M1136.5 875.9V887.1M1130.9 875.9L1142.1 887.1M1130.9 887.1L1142.1 875.9"/><path d="M1149.9 889.5H1161.1M1155.5 883.9V895.1M1149.9 883.9L1161.1 895.1M1149.9 895.1L1161.1 883.9"/><path d="M1167.9 889.5H1179.1M1173.5 883.9V895.1M1167.9 883.9L1179.1 895.1M1167.9 895.1L1179.1 883.9"/><path d="M1186.9 889.5H1198.1M1192.5 883.9V895.1M1186.9 883.9L1198.1 895.1M1186.9 895.1L1198.1 883.9"/><path d="M1204.9 887.5H1216.1M1210.5 881.9V893.1M1204.9 881.9L1216.1 893.1M1204.9 893.1L1216.1 881.9"/><path d="M1223.9 883.5H1235.1M1229.5 877.9V889.1M1223.9 877.9L1235.1 889.1M1223.9 889.1L1235.1 877.9"/><path d="M1241.9 864.5H1253.1M1247.5 858.9V870.1M1241.9 858.9L1253.1 870.1M1241.9 870.1L1253.1 858.9"/><path d="M1260.9 857.5H1272.1M1266.5 851.9V863.1M1260.9 851.9L1272.1 863.1M1260.9 863.1L1272.1 851.9"/><path d="M1278.9 871.5H1290.1M1284.5 865.9V877.1M1278.9 865.9L1290.1 877.1M1278.9 877.1L1290.1 865.9"/><path d="M1297.9 886.5H1309.1M1303.5 880.9V892.1M1297.9 880.9L1309.1 892.1M1297.9 892.1L1309.1 880.9"/><path d="M1315.9 887.5H1327.1M1321.5 881.9V893.1M1315.9 881.9L1327.1 893.1M1315.9 893.1L1327.1 881.9"/><path d="M1334.9 889.5H1346.1M1340.5 883.9V895.1M1334.9 883.9L1346.1 895.1M1334.9 895.1L1346.1 883.9"/><path d="M1352.9 888.5H1364.1M1358.5 882.9V894.1M1352.9 882.9L1364.1 894.1M1352.9 894.1L1364.1 882.9"/><path d="M1371.9 876.5H1383.1M1377.5 870.9V882.1M1371.9 870.9L1383.1 882.1M1371.9 882.1L1383.1 870.9"/><path d="M1408.9 858.5H1420.1M1414.5 852.9V864.1M1408.9 852.9L1420.1 864.1M1408.9 864.1L1420.1 852.9"/><path d="M1445.9 887.5H1457.1M1451.5 881.9V893.1M1445.9 881.9L1457.1 893.1M1445.9 893.1L1457.1 881.9"/></g></g>
<rect x="124.5" y="98.5" width="1333.0" height="796.0" fill="none" stroke="#000" stroke-width="1"/>
<text y="59" class="b"><tspan x="336.62" textLength="44.72" lengthAdjust="spacingAndGlyphs">Tier</tspan> <tspan x="387.4" textLength="14.69" lengthAdjust="spacingAndGlyphs">2</tspan> <tspan x="408.74" textLength="39.81" lengthAdjust="spacingAndGlyphs">FID</tspan> <tspan x="454.3" textLength="27.84" lengthAdjust="spacingAndGlyphs">42</tspan> <tspan x="488.2" textLength="43.83" lengthAdjust="spacingAndGlyphs">dist</tspan> <tspan x="537.8" textLength="9.21" lengthAdjust="spacingAndGlyphs">-</tspan> <tspan x="552.54" textLength="45.73" lengthAdjust="spacingAndGlyphs">BV2</tspan> <tspan x="603.7" textLength="9.21" lengthAdjust="spacingAndGlyphs">-</tspan> <tspan x="618.38" textLength="95.61" lengthAdjust="spacingAndGlyphs">Fosberg</tspan> <tspan x="718.87" textLength="44.62" lengthAdjust="spacingAndGlyphs">Fire</tspan> <tspan x="769.9" textLength="100.83" lengthAdjust="spacingAndGlyphs">Weather</tspan> <tspan x="876.4" textLength="68.81" lengthAdjust="spacingAndGlyphs">Index</tspan> <tspan x="950.7" textLength="9.11" lengthAdjust="spacingAndGlyphs">-</tspan> <tspan x="964.6" textLength="132.64" lengthAdjust="spacingAndGlyphs">04/15/2026</tspan> <tspan x="1102.94" textLength="40.61" lengthAdjust="spacingAndGlyphs">18z</tspan> <tspan x="1149.74" textLength="95.51" lengthAdjust="spacingAndGlyphs">forecast</tspan></text>
<text y="986" class="b"><tspan x="762.74" textLength="56.31" lengthAdjust="spacingAndGlyphs">Date</tspan></text>
<text y="0" class="b" transform="translate(36.8 673.2) rotate(-90)"><tspan x="-1.52" textLength="95.61" lengthAdjust="spacingAndGlyphs">Fosberg</tspan> <tspan x="99.27" textLength="44.62" lengthAdjust="spacingAndGlyphs">Fire</tspan> <tspan x="149.5" textLength="100.83" lengthAdjust="spacingAndGlyphs">Weather</tspan> <tspan x="256.2" textLength="68.81" lengthAdjust="spacingAndGlyphs">Index</tspan> <tspan x="330.65" textLength="24.88" lengthAdjust="spacingAndGlyphs">(-)</tspan></text>
<text x="110.1" y="904" text-anchor="end" textLength="14.3" lengthAdjust="spacingAndGlyphs">0</text>
<text x="110.1" y="771" text-anchor="end" textLength="28.2" lengthAdjust="spacingAndGlyphs">20</text>
<text x="110.1" y="638" text-anchor="end" textLength="28.2" lengthAdjust="spacingAndGlyphs">40</text>
<text x="110.1" y="506" text-anchor="end" textLength="28.2" lengthAdjust="spacingAndGlyphs">60</text>
<text x="110.1" y="373" text-anchor="end" textLength="28.2" lengthAdjust="spacingAndGlyphs">80</text>
<text x="110.1" y="240" text-anchor="end" textLength="41.9" lengthAdjust="spacingAndGlyphs">100</text>
<text x="110.1" y="108" text-anchor="end" textLength="41.9" lengthAdjust="spacingAndGlyphs">120</text>
<text x="124.5" y="937" text-anchor="middle" textLength="65.0" lengthAdjust="spacingAndGlyphs">04/15</text>
<text x="272.5" y="937" text-anchor="middle" textLength="65.0" lengthAdjust="spacingAndGlyphs">04/16</text>
<text x="420.5" y="937" text-anchor="middle" textLength="65.0" lengthAdjust="spacingAndGlyphs">04/17</text>
<text x="568.5" y="937" text-anchor="middle" textLength="65.0" lengthAdjust="spacingAndGlyphs">04/18</text>
<text x="716.5" y="937" text-anchor="middle" textLength="65.0" lengthAdjust="spacingAndGlyphs">04/19</text>
<text x="864.5" y="937" text-anchor="middle" textLength="65.0" lengthAdjust="spacingAndGlyphs">04/20</text>
<text x="1013.5" y="937" text-anchor="middle" textLength="65.0" lengthAdjust="spacingAndGlyphs">04/21</text>
<text x="1161.5" y="937" text-anchor="middle" textLength="65.0" lengthAdjust="spacingAndGlyphs">04/22</text>
<text x="1309.5" y="937" text-anchor="middle" textLength="65.0" lengthAdjust="spacingAndGlyphs">04/23</text>
<text x="1457.5" y="937" text-anchor="middle" textLength="65.0" lengthAdjust="spacingAndGlyphs">04/24</text>
<text y="137"><tspan x="1262.4" textLength="85.18" lengthAdjust="spacingAndGlyphs">ECMWF</tspan></text>
<g fill="#0000cd"><rect x="1390.0" y="123.0" width="9" height="9"/></g>
<text y="170"><tspan x="1283.24" textLength="63.9" lengthAdjust="spacingAndGlyphs">HRRR</tspan></text>
<g fill="#006400"><circle cx="1394.5" cy="160.5" r="5.6"/></g>
<text y="203"><tspan x="1230.2" textLength="54.46" lengthAdjust="spacingAndGlyphs">NAM</tspan> <tspan x="1290.69" textLength="14.4" lengthAdjust="spacingAndGlyphs">3</tspan> <tspan x="1311.03" textLength="36.16" lengthAdjust="spacingAndGlyphs">km</tspan></text>
<g fill="#ff0000"><path d="M1388.8 198.0L1394.5 187.5L1400.2 198.0z"/></g>
<text y="235"><tspan x="1216.0" textLength="54.46" lengthAdjust="spacingAndGlyphs">NAM</tspan> <tspan x="1277.2" textLength="27.85" lengthAdjust="spacingAndGlyphs">12</tspan> <tspan x="1311.03" textLength="36.16" lengthAdjust="spacingAndGlyphs">km</tspan></text>
<g fill="#000000"><path d="M1388.8 222.2L1394.5 232.4L1400.2 222.2z"/></g>
<text y="268"><tspan x="1226.6" textLength="42.11" lengthAdjust="spacingAndGlyphs">GFS</tspan> <tspan x="1274.6" textLength="72.72" lengthAdjust="spacingAndGlyphs">0.125°</tspan></text>
<g fill="#bebebe"><path d="M1388.8 258.5L1394.5 252.8L1400.2 258.5L1394.5 264.2z"/></g>
<text y="301"><tspan x="1226.6" textLength="42.11" lengthAdjust="spacingAndGlyphs">GFS</tspan> <tspan x="1274.6" textLength="72.72" lengthAdjust="spacingAndGlyphs">0.250°</tspan></text>
<g fill="#87ceeb"><path d="M1394.5 297.2L1389.1 293.3L1391.1 286.9L1397.9 286.9L1399.9 293.3z"/></g>
<text y="333"><tspan x="1290.2" textLength="56.37" lengthAdjust="spacingAndGlyphs">NBM</tspan></text>
<g fill="none" stroke="#ffa500" stroke-width="1"><path d="M1388.9 324.5H1400.1M1394.5 318.9V330.1M1388.9 318.9L1400.1 330.1M1388.9 330.1L1400.1 318.9"/></g>
</svg>
</body>
</html>
